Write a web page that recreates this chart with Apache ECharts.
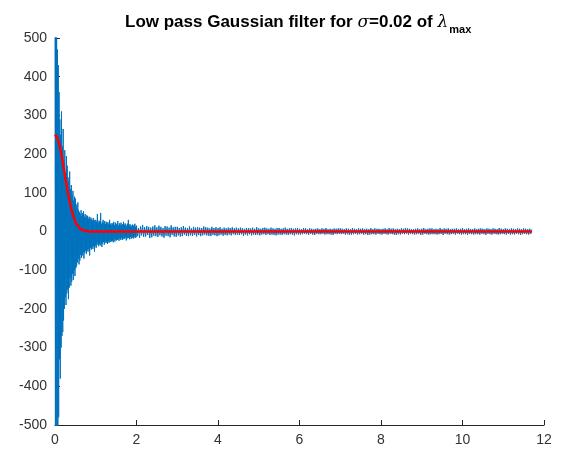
<!DOCTYPE html>
<html>
<head>
<meta charset="utf-8">
<script src="https://cdn.jsdelivr.net/npm/echarts@6/dist/echarts.min.js"></script>
<style>html,body{margin:0;padding:0;background:#fff}#c{width:569px;height:452px}</style>
</head>
<body>
<div id="c"></div>
<script>
// Blue signal, part A: samples from x = 0, step 0.01
const blueAStart = 0, blueAStep = 0.01;
const blueA = [
  580,-610,540,-590,620,-560,470,-520,430,-480,
  360,-330,290,-380,250,-300,310,-270,220,-260,
  265,-230,180,-200,210,-170,150,-190,195,-160,
  170,-150,140,-175,130,-145,155,-120,110,-140,
  120,-130,95,-110,105,-125,80,-100,90,-115,
  85,-95,70,-90,60,-80,75,-70,55,-85,
  50,-75,45,-60,55,-68,40,-62,48,-55,
  52,-70,38,-55,45,-50,35,-58,42,-48,
  40,-52,33,-45,38,-62,30,-42,36,-47,
  32,-40,28,-45,35,-38,30,-52,26,-36,
  30,-42,25,-35,45,-30,22,-38,28,-33,
  26,-36,48,-28,20,-40,24,-31,30,-27,
  22,-34,27,-25,19,-30,25,-28,21,-32,
  24,-26,18,-29,30,-23,20,-27,17,-25,
  22,-24,19,-28,25,-21,16,-26,23,-20,
  20,-23,17,-22,27,-19,15,-24,21,-18,
  18,-21,23,-17,16,-22,19,-20,25,-16,
  17,-19,21,-15,18,-23,14,-18,20,-16,
  30,-17,15,-20,19,-14,16,-19,13,-17,
  18,-15,14,-18,17,-13,20,-16,12,-15
];
// Blue signal, part B: samples from x = 2, step 0.025
const blueBStart = 2, blueBStep = 0.025;
const blueB = [
  15,-12,9,-16,13,-10,17,-14,11,-13,
  14,-9,12,-17,10,-15,13,-11,16,-12,
  11,-14,15,-10,12,-13,9,-16,14,-11,
  13,-12,10,-15,16,-9,11,-13,12,-14,
  12,-10,9,-13,11,-12,14,-8,10,-11,
  9,-12,13,-10,8,-11,12,-9,10,-13,
  11,-9,10,-12,9,-10,13,-8,11,-10,
  10,-11,8,-12,12,-9,9,-10,11,-12,
  9,-10,11,-8,7,-11,10,-9,8,-10,
  10,-8,9,-10,11,-7,8,-9,10,-8,
  8,-9,10,-7,9,-11,7,-8,9,-10,
  9,-7,8,-10,10,-8,7,-9,11,-8,
  8,-10,7,-8,9,-7,10,-9,8,-7,
  7,-9,10,-8,8,-9,7,-10,9,-8,
  9,-8,7,-9,8,-7,10,-8,7,-9,
  8,-7,9,-8,7,-10,8,-7,9,-8,
  7,-8,6,-7,9,-6,8,-7,6,-8,
  8,-6,7,-8,6,-9,7,-6,8,-7,
  6,-7,8,-6,7,-8,9,-7,6,-7,
  7,-8,6,-9,8,-6,7,-7,8,-6,
  8,-7,7,-6,6,-8,8,-7,7,-9,
  6,-8,9,-7,7,-6,6,-8,8,-7,
  7,-6,8,-8,6,-7,7,-9,6,-8,
  9,-7,6,-7,8,-8,7,-6,7,-7,
  6,-8,7,-6,8,-7,6,-8,9,-6,
  7,-7,8,-8,6,-9,7,-7,6,-8,
  8,-6,7,-7,9,-6,8,-8,7,-6,
  6,-7,6,-8,7,-7,8,-6,6,-9,
  7,-8,9,-6,6,-7,7,-8,8,-7,
  8,-7,6,-7,7,-8,6,-7,9,-6,
  6,-9,8,-6,7,-7,8,-8,6,-7,
  7,-6,7,-8,8,-6,6,-7,7,-8,
  9,-7,6,-7,7,-9,8,-6,6,-7,
  6,-8,8,-7,6,-7,7,-8,8,-6,
  7,-7,6,-9,8,-6,7,-7,6,-8,
  8,-6,7,-7,6,-8,9,-7,7,-6,
  6,-7,8,-8,7,-6,6,-8,8,-7,
  7,-8,6,-6,8,-7,7,-9,6,-7,
  8,-6,7,-7,6,-8,7,-6,5
];
// Red filter curve
const redX = [0,0.05,0.1,0.15,0.2,0.25,0.3,0.35,0.4,0.45,0.5,0.55,0.6,0.65,0.7,0.8,0.9,1,2,4,6,8,10,11.7];
const redY = [250,244,228,204,174,141,110,82,58,39,25,16,9,5,3,0.5,0,0,0,0,0,0,0,0];
const xTicks = [0,2,4,6,8,10,12];
const yTicks = [-500,-400,-300,-200,-100,0,100,200,300,400,500];

const blueData = [];
blueA.forEach((v,i)=>blueData.push([+(blueAStart+i*blueAStep).toFixed(4), v]));
blueB.forEach((v,i)=>blueData.push([+(blueBStart+i*blueBStep).toFixed(4), v]));
const redData = redX.map((x,i)=>[x, redY[i]]);

const axisColor = '#262626';
const labelColor = '#333333';
const font = '"Liberation Sans", Arial, Helvetica, sans-serif';
const chart = echarts.init(document.getElementById('c'), null, {renderer:'canvas'});
chart.setOption({
  animation: false,
  backgroundColor: '#ffffff',
  title: {
    left: 120, top: 5,
    text: '{b|Low pass Gaussian filter for }{i|σ}{b|=0.02 of }{i|λ}{s|max}',
    textStyle: {
      rich: {
        b: {fontFamily: font, fontWeight: 'bold', fontSize: 17, color: '#000'},
        i: {fontFamily: '"DejaVu Serif", "Liberation Serif", serif', fontStyle: 'italic', fontWeight: 'normal', fontSize: 17, color: '#000'},
        s: {fontFamily: font, fontWeight: 'bold', fontSize: 11, color: '#000', padding: [14,0,0,1]}
      }
    }
  },
  grid: {left: 55, right: 25, top: 38, bottom: 27, containLabel: false},
  xAxis: {
    type: 'value', min: xTicks[0], max: xTicks[xTicks.length-1], interval: 2,
    axisLine: {show: true, onZero: false, lineStyle: {color: axisColor, width: 1}},
    axisTick: {show: true, inside: true, length: 5, lineStyle: {color: axisColor}},
    axisLabel: {color: labelColor, fontFamily: font, fontSize: 14, margin: 8},
    splitLine: {show: false}
  },
  yAxis: {
    type: 'value', min: yTicks[0], max: yTicks[yTicks.length-1], interval: 100,
    axisLine: {show: true, onZero: false, lineStyle: {color: axisColor, width: 1}},
    axisTick: {show: true, inside: true, length: 5, lineStyle: {color: axisColor}},
    axisLabel: {color: labelColor, fontFamily: font, fontSize: 14, margin: 8},
    splitLine: {show: false}
  },
  series: [
    {type: 'line', data: blueData, showSymbol: false, symbol: 'none', sampling: null,
     lineStyle: {color: '#0072BD', width: 1}, itemStyle: {color: '#0072BD'}, z: 2, clip: true},
    {type: 'line', data: redData, showSymbol: false, symbol: 'none', smooth: false,
     lineStyle: {color: '#FF0000', width: 2.5}, itemStyle: {color: '#FF0000'}, z: 3, clip: true}
  ]
});
</script>
</body>
</html>
